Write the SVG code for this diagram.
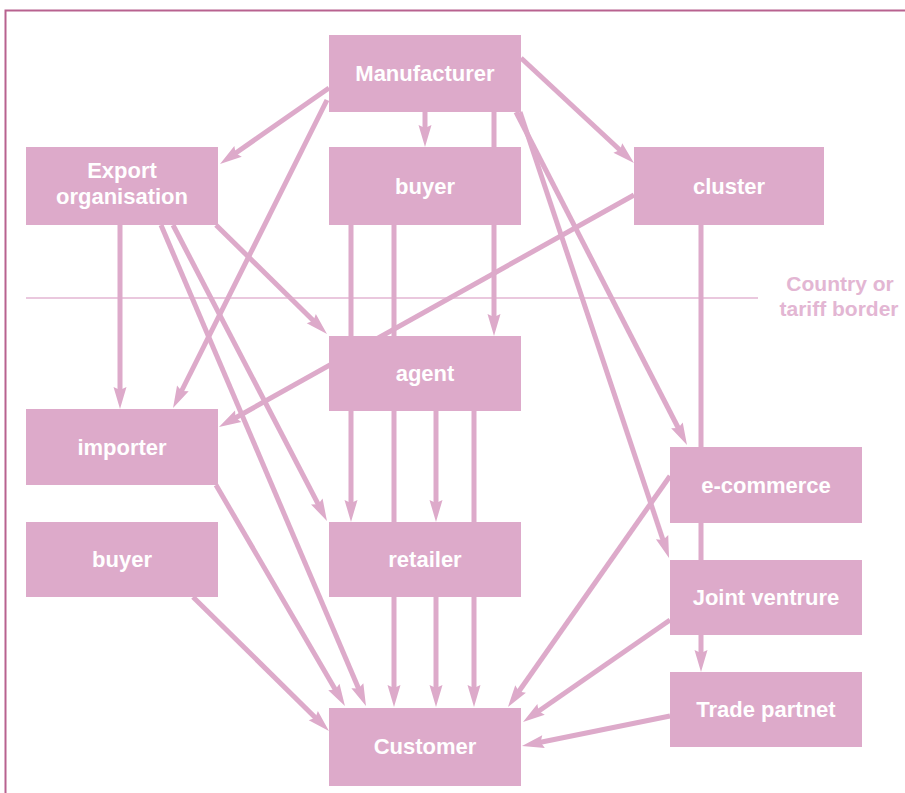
<svg xmlns="http://www.w3.org/2000/svg" width="905" height="793" viewBox="0 0 905 793">
  <style>
    .box { fill: #ddaaca; }
    .lbl { font-family: "Liberation Sans", Arial, sans-serif; font-weight: bold; font-size: 22px; fill: #ffffff; text-anchor: middle; }
    .edge { stroke: #ddaaca; stroke-width: 5; fill: none; marker-end: url(#head); }
    .frame { stroke: #b8628f; stroke-width: 2; fill: none; }
    .border { stroke: #e3b6d3; stroke-width: 1.5; }
    .note { font-family: "Liberation Sans", Arial, sans-serif; font-weight: bold; font-size: 21px; fill: #e3b6d3; text-anchor: middle; }
  </style>
  <defs>
    <marker id="head" markerUnits="userSpaceOnUse" markerWidth="40" markerHeight="40" refX="0" refY="0" orient="auto" overflow="visible">
      <path d="M14,0 L-8,-6.5 L-5,0 L-8,6.5 Z" fill="#ddaaca"/>
    </marker>
  </defs>

  <rect width="905" height="793" fill="#ffffff"/>
  <path class="frame" d="M5.5,793 V10.5 H905"/>

  <!-- country / tariff border -->
  <g id="tariff-border">
    <line class="border" x1="26" y1="298" x2="758" y2="298"/>
    <text class="note" x="840" y="291">Country or</text>
    <text class="note" x="839" y="316">tariff border</text>
  </g>

  <!-- connectors (drawn beneath the boxes) -->
  <g id="connectors">
    <line class="edge" x1="329" y1="88" x2="231.5" y2="156"/>
    <line class="edge" x1="327" y1="100" x2="179.3" y2="395.5"/>
    <line class="edge" x1="425" y1="112" x2="425" y2="133"/>
    <line class="edge" x1="494" y1="112" x2="494" y2="322"/>
    <line class="edge" x1="521" y1="58" x2="623.7" y2="153.5"/>
    <line class="edge" x1="516" y1="112" x2="680.6" y2="432.5"/>
    <line class="edge" x1="520" y1="112" x2="664.6" y2="544.7"/>
    <line class="edge" x1="120" y1="225" x2="120" y2="395"/>
    <line class="edge" x1="216" y1="225" x2="317" y2="324.2"/>
    <line class="edge" x1="173" y1="225" x2="320.5" y2="508.6"/>
    <line class="edge" x1="161" y1="225" x2="360.5" y2="693.1"/>
    <line class="edge" x1="351" y1="225" x2="351" y2="508"/>
    <line class="edge" x1="394" y1="225" x2="394" y2="693"/>
    <line class="edge" x1="436" y1="411" x2="436" y2="508"/>
    <line class="edge" x1="474" y1="411" x2="474" y2="693"/>
    <line class="edge" x1="436" y1="597" x2="436" y2="693"/>
    <line class="edge" x1="634" y1="195" x2="231.2" y2="420.2"/>
    <line class="edge" x1="701" y1="225" x2="701" y2="658"/>
    <line class="edge" x1="216" y1="485" x2="337.9" y2="693.9"/>
    <line class="edge" x1="193" y1="597" x2="319" y2="721.2"/>
    <line class="edge" x1="670" y1="476" x2="516" y2="695.5"/>
    <line class="edge" x1="670" y1="620" x2="534.5" y2="714"/>
    <line class="edge" x1="670" y1="716" x2="535.7" y2="743.2"/>
  </g>

  <!-- nodes -->
  <g id="manufacturer">
    <rect class="box" x="329" y="35" width="192" height="77"/>
    <text class="lbl" x="425" y="81">Manufacturer</text>
  </g>
  <g id="export-organisation">
    <rect class="box" x="26" y="147" width="192" height="78"/>
    <text class="lbl" x="122" y="178">Export</text>
    <text class="lbl" x="122" y="204">organisation</text>
  </g>
  <g id="buyer-top">
    <rect class="box" x="329" y="147" width="192" height="78"/>
    <text class="lbl" x="425" y="194">buyer</text>
  </g>
  <g id="cluster">
    <rect class="box" x="634" y="147" width="190" height="78"/>
    <text class="lbl" x="729" y="194">cluster</text>
  </g>
  <g id="agent">
    <rect class="box" x="329" y="336" width="192" height="75"/>
    <text class="lbl" x="425" y="381">agent</text>
  </g>
  <g id="importer">
    <rect class="box" x="26" y="409" width="192" height="76"/>
    <text class="lbl" x="122" y="455">importer</text>
  </g>
  <g id="e-commerce">
    <rect class="box" x="670" y="447" width="192" height="76"/>
    <text class="lbl" x="766" y="493">e-commerce</text>
  </g>
  <g id="buyer-bottom">
    <rect class="box" x="26" y="522" width="192" height="75"/>
    <text class="lbl" x="122" y="567">buyer</text>
  </g>
  <g id="retailer">
    <rect class="box" x="329" y="522" width="192" height="75"/>
    <text class="lbl" x="425" y="567">retailer</text>
  </g>
  <g id="joint-venture">
    <rect class="box" x="670" y="560" width="192" height="75"/>
    <text class="lbl" x="766" y="605">Joint ventrure</text>
  </g>
  <g id="trade-partner">
    <rect class="box" x="670" y="672" width="192" height="75"/>
    <text class="lbl" x="766" y="717">Trade partnet</text>
  </g>
  <g id="customer">
    <rect class="box" x="329" y="708" width="192" height="78"/>
    <text class="lbl" x="425" y="754">Customer</text>
  </g>
</svg>
